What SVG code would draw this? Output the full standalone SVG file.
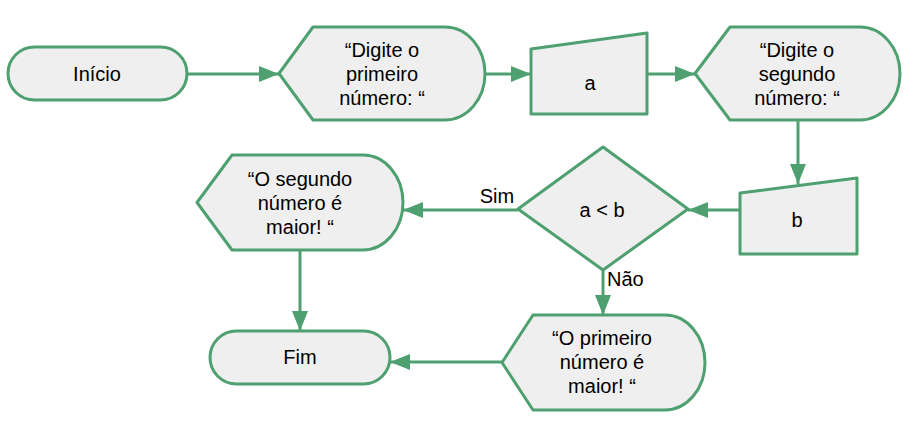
<svg xmlns="http://www.w3.org/2000/svg" width="914" height="426" viewBox="0 0 914 426">
<defs>
<style>
.s{fill:#efefef;stroke:#4fa070;stroke-width:3;stroke-linejoin:round}
.t{font-family:"Liberation Sans",Arial,sans-serif;font-size:20px;fill:#000;text-anchor:middle}
.c{fill:none;stroke:#4fa070;stroke-width:3}
</style>
<marker id="ah" markerUnits="userSpaceOnUse" markerWidth="20" markerHeight="16" refX="20" refY="8" orient="auto">
<path d="M0,0 L20,8 L0,16 Z" fill="#4fa070"/>
</marker>
</defs>
<rect width="914" height="426" fill="#fff"/>
<g id="connectors">
<path class="c" d="M187,74 H279" marker-end="url(#ah)"/>
<path class="c" d="M485,74 H531" marker-end="url(#ah)"/>
<path class="c" d="M647,74 H695" marker-end="url(#ah)"/>
<path class="c" d="M798,120 V184" marker-end="url(#ah)"/>
<path class="c" d="M740,210 H688" marker-end="url(#ah)"/>
<path class="c" d="M518,210 H403" marker-end="url(#ah)"/>
<path class="c" d="M603,270 V315" marker-end="url(#ah)"/>
<path class="c" d="M300,250 V331" marker-end="url(#ah)"/>
<path class="c" d="M502,362 H390" marker-end="url(#ah)"/>
<text class="t" x="497" y="203">Sim</text>
<text class="t" x="607" y="286" style="text-anchor:start">Não</text>
</g>
<g id="inicio">
<rect class="s" x="8" y="47" width="179" height="53" rx="26.5"/>
<text class="t" x="97" y="81">Início</text>
</g>
<g id="display1">
<path class="s" d="M279,73.5 L313,27 H445 A40,46.5 0 0 1 445,120 H313 Z"/>
<text class="t" x="382" y="57">“Digite o</text>
<text class="t" x="382" y="81">primeiro</text>
<text class="t" x="382" y="105">número: “</text>
</g>
<g id="input-a">
<path class="s" d="M531,49 L647,33 L647,114 L531,114 Z"/>
<text class="t" x="590" y="90">a</text>
</g>
<g id="display2">
<path class="s" d="M695,73.5 L730,27 H860 A40,46.5 0 0 1 860,120 H730 Z"/>
<text class="t" x="797" y="57">“Digite o</text>
<text class="t" x="797" y="81">segundo</text>
<text class="t" x="797" y="105">número: “</text>
</g>
<g id="input-b">
<path class="s" d="M740,193 L857,178 L857,254 L740,254 Z"/>
<text class="t" x="797" y="227">b</text>
</g>
<g id="decision">
<path class="s" d="M518,209 L603,147 L688,209 L603,270 Z"/>
<text class="t" x="602" y="217">a &lt; b</text>
</g>
<g id="display3">
<path class="s" d="M197,202.5 L232,155 H363 A40,47.5 0 0 1 363,250 H232 Z"/>
<text class="t" x="300" y="186">“O segundo</text>
<text class="t" x="300" y="210">número é</text>
<text class="t" x="300" y="234">maior! “</text>
</g>
<g id="display4">
<path class="s" d="M502,362.5 L533,315 H665 A40,47.5 0 0 1 665,410 H533 Z"/>
<text class="t" x="602" y="345">“O primeiro</text>
<text class="t" x="602" y="369">número é</text>
<text class="t" x="602" y="393">maior! “</text>
</g>
<g id="fim">
<rect class="s" x="210" y="331" width="180" height="53" rx="26.5"/>
<text class="t" x="300" y="364">Fim</text>
</g>
</svg>
